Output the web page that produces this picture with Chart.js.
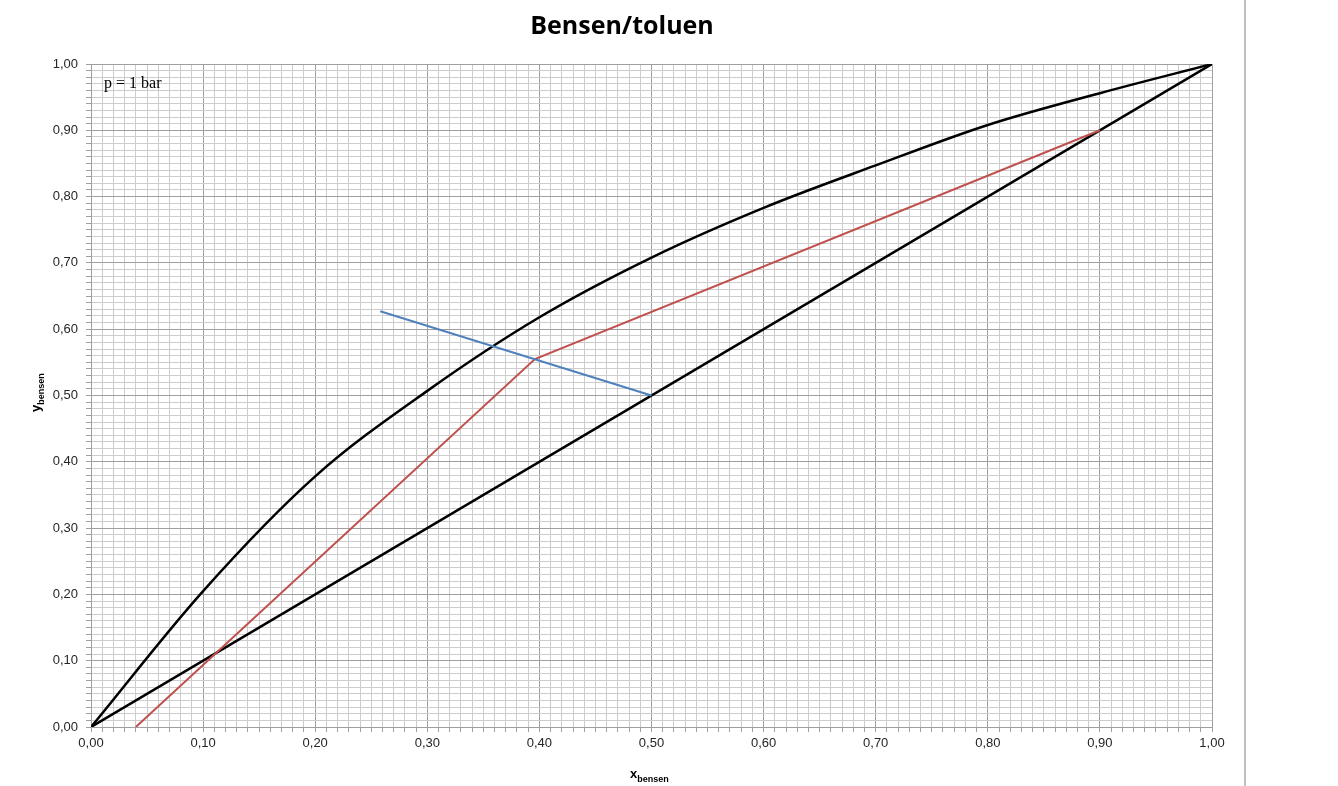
<!DOCTYPE html>
<html>
<head>
<meta charset="utf-8">
<script src="https://cdn.jsdelivr.net/npm/chart.js@4"></script>
<style>
  html, body { margin: 0; padding: 0; background: #fff; }
  #wrap { width: 1338px; height: 786px; position: relative; }
</style>
</head>
<body>
<div id="wrap"><canvas id="mcCabe"></canvas></div>
<script>
// data
const eqX = [0, 0.1, 0.2, 0.3, 0.4, 0.5, 0.6, 0.7, 0.8, 0.9, 1.0];
const eqY = [0, 0.205, 0.378, 0.507, 0.618, 0.708, 0.783, 0.847, 0.908, 0.956, 1.0];
const diagX = [0, 1];
const diagY = [0, 1];
const opX = [0.04, 0.396, 0.9];
const opY = [0, 0.555, 0.9];
const qX = [0.258, 0.5];
const qY = [0.627, 0.5];
const tickLabels = ["0,00", "0,10", "0,20", "0,30", "0,40", "0,50", "0,60", "0,70", "0,80", "0,90", "1,00"];

function pts(xs, ys) {
  return xs.map((x, i) => ({ x: x, y: ys[i] }));
}

function isMajor(v) {
  return Math.round(v * 100) % 10 === 0;
}

function label(v) {
  if (!isMajor(v)) return "";
  return tickLabels[Math.round(v * 10)];
}

const gridColor = (ctx) => (isMajor(ctx.tick.value) ? "#9f9f9f" : "#cdcdcd");

// title, axis titles with subscript, note and page edge line
const extras = {
  id: "extras",
  afterDraw(chart) {
    const ctx = chart.ctx;
    ctx.save();
    ctx.fillStyle = "#000";
    ctx.textBaseline = "alphabetic";

    ctx.font = "bold 25px 'Open Sans', sans-serif";
    ctx.textAlign = "center";
    ctx.fillText("Bensen/toluen", 622, 34);

    ctx.font = "16px 'Liberation Serif', serif";
    ctx.textAlign = "left";
    ctx.fillText("p = 1 bar", 104, 88);

    // x title
    ctx.font = "bold 13px 'Liberation Sans', sans-serif";
    ctx.fillText("x", 630, 778);
    const xw = ctx.measureText("x").width;
    ctx.font = "bold 9px 'Liberation Sans', sans-serif";
    ctx.fillText("bensen", 630 + xw, 782);

    // y title
    ctx.translate(40, 412);
    ctx.rotate(-Math.PI / 2);
    ctx.font = "bold 13px 'Liberation Sans', sans-serif";
    ctx.fillText("y", 0, 0);
    const yw = ctx.measureText("y").width;
    ctx.font = "bold 9px 'Liberation Sans', sans-serif";
    ctx.fillText("bensen", yw, 4);
    ctx.restore();

    ctx.save();
    ctx.strokeStyle = "#bfbfbf";
    ctx.lineWidth = 2;
    ctx.beginPath();
    ctx.moveTo(1245, 0);
    ctx.lineTo(1245, 786);
    ctx.stroke();
    ctx.restore();
  },
};

const lineStyle = { showLine: true, pointRadius: 0, fill: false, tension: 0 };

new Chart(document.getElementById("mcCabe"), {
  type: "scatter",
  data: {
    datasets: [
      { ...lineStyle, data: pts(qX, qY), borderColor: "#4f81bd", borderWidth: 2 },
      { ...lineStyle, data: pts(opX, opY), borderColor: "#c0504d", borderWidth: 2 },
      { ...lineStyle, data: pts(eqX, eqY), borderColor: "#000", borderWidth: 2.5, cubicInterpolationMode: "monotone" },
      { ...lineStyle, data: pts(diagX, diagY), borderColor: "#000", borderWidth: 2.5 },
    ],
  },
  options: {
    responsive: true,
    maintainAspectRatio: false,
    animation: false,
    layout: { padding: { top: 64, right: 126, left: 0, bottom: 0 } },
    plugins: {
      legend: { display: false },
      tooltip: { enabled: false },
    },
    scales: {
      x: {
        type: "linear",
        min: 0,
        max: 1,
        afterFit: (s) => { s.height = 59; },
        border: { color: "#9f9f9f" },
        grid: { color: gridColor, tickLength: 5, tickColor: "#9f9f9f" },
        ticks: {
          stepSize: 0.01,
          autoSkip: false,
          maxRotation: 0,
          maxTicksLimit: 200,
          padding: 4,
          color: "#262626",
          font: { family: "'Liberation Sans', sans-serif", size: 13 },
          callback: label,
        },
      },
      y: {
        type: "linear",
        min: 0,
        max: 1,
        afterFit: (s) => { s.width = 91; },
        border: { color: "#9f9f9f" },
        grid: { color: gridColor, tickLength: 5, tickColor: "#9f9f9f" },
        ticks: {
          stepSize: 0.01,
          autoSkip: false,
          maxTicksLimit: 200,
          padding: 8,
          color: "#262626",
          font: { family: "'Liberation Sans', sans-serif", size: 13 },
          callback: label,
        },
      },
    },
  },
  plugins: [extras],
});
</script>
</body>
</html>
